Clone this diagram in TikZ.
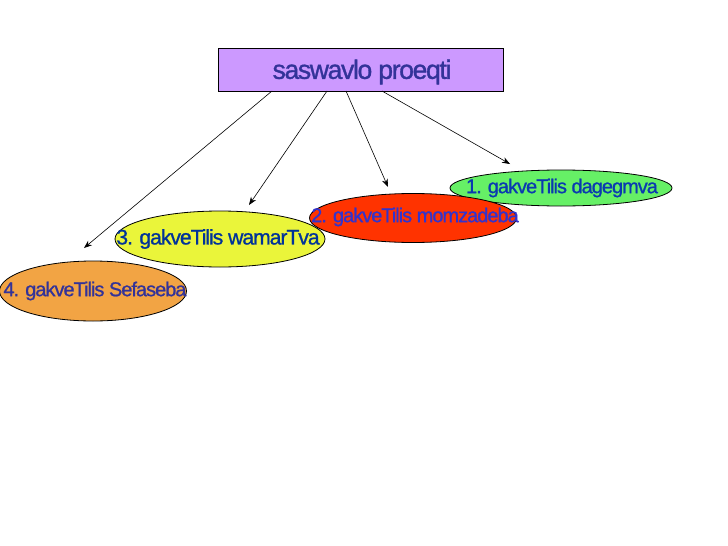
\documentclass[tikz,border=0pt]{standalone}
\usepackage{fontspec}
\setmainfont{Liberation Sans}
\newfontfamily\titlefont[LetterSpace=-5,FakeBold=1.2]{Liberation Sans}
\newfontfamily\ovalfont[LetterSpace=-5,FakeBold=1.0]{Liberation Sans}
\usetikzlibrary{shapes.geometric,arrows.meta}
\definecolor{boxfill}{HTML}{CC99FF}
\definecolor{titleblue}{HTML}{333399}
\definecolor{gfill}{HTML}{66F066}
\definecolor{rfill}{HTML}{FF3300}
\definecolor{yfill}{HTML}{EAF53A}
\definecolor{ofill}{HTML}{F2A444}
\definecolor{tone}{HTML}{0A3AB0}
\definecolor{ttwo}{HTML}{3333CC}
\definecolor{tthree}{HTML}{003399}
\definecolor{tfour}{HTML}{333399}
\tikzset{
  oval/.style={ellipse, draw=black, line width=0.8pt, inner sep=0pt},
  lbl/.style={inner sep=0pt, font=\ovalfont\fontsize{20}{22}\selectfont},
  conn/.style={draw=black, line width=0.6pt, -{Stealth[length=8pt,width=6pt]}}
}
\begin{document}
\begin{tikzpicture}[x=1pt,y=-1pt]
\useasboundingbox (0,0) rectangle (728,546);
\fill[white] (0,0) rectangle (728,546);
% title box
\node[draw=black, line width=0.8pt, fill=boxfill, minimum width=285pt, minimum height=43pt, inner sep=0pt, anchor=north west] (top) at (218,48) {};
\node[inner sep=0pt, text=titleblue, font=\titlefont\fontsize{26.5}{28}\selectfont] (title) at (362,72) {saswavlo proeqti};
% ellipses (drawing order: green, red, yellow, orange)
\node[oval, fill=gfill, minimum width=222pt, minimum height=36pt] (e1) at (561,188) {};
\node[lbl, text=tone] (t1) at (562,188) {1. gakveTilis dagegmva};
\node[oval, fill=rfill, minimum width=207pt, minimum height=49pt] (e2) at (413,218) {};
\node[lbl, text=ttwo] (t2) at (415,217) {2. gakveTilis momzadeba};
\node[oval, fill=yfill, minimum width=210pt, minimum height=56pt] (e3) at (220,239) {};
\node[lbl, text=tthree, font=\ovalfont\fontsize{21.2}{23}\selectfont] (t3) at (218,239) {3. gakveTilis wamarTva};
\node[oval, fill=ofill, minimum width=187pt, minimum height=60pt] (e4) at (93,291) {};
\node[lbl, text=tfour] (t4) at (95,291) {4. gakveTilis Sefaseba};
% connector ends
\coordinate (s1) at (272,91);
\coordinate (s2) at (327,91);
\coordinate (s3) at (346,91);
\coordinate (s4) at (382,91);
\coordinate (a1) at (84,248);
\coordinate (a2) at (249,205);
\coordinate (a3) at (388,187);
\coordinate (a4) at (510,164);
\draw[conn] (s1) -- (a1);
\draw[conn] (s2) -- (a2);
\draw[conn] (s3) -- (a3);
\draw[conn] (s4) -- (a4);
\end{tikzpicture}
\end{document}
